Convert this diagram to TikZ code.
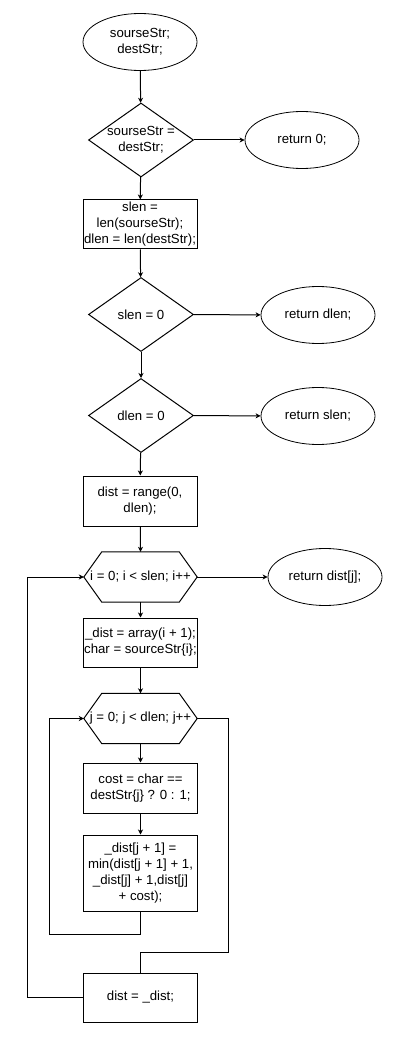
\documentclass[tikz,border=0pt]{standalone}
\usepackage{fontspec}
\setmainfont{Liberation Sans}
\usetikzlibrary{shapes.geometric,arrows.meta}
\begin{document}
\begin{tikzpicture}[x=1pt,y=-1pt,
  font=\fontsize{13.2}{16}\selectfont,
  every node/.style={align=center, inner sep=0pt},
  proc/.style={draw, line width=1pt, minimum width=114pt, minimum height=49pt},
  term/.style={draw, ellipse, line width=0.8pt, minimum width=114pt, minimum height=57pt},
  dec/.style={draw, diamond, line width=1pt, minimum width=105pt, minimum height=74pt},
  hexa/.style={minimum width=113pt, minimum height=50pt},
  conn/.style={line width=1pt, -{Stealth[length=5pt,width=5pt,inset=1.5pt]}},
  plain/.style={line width=1pt}]
\useasboundingbox (0,0) rectangle (419,1040);
\fill[white] (0,0) rectangle (419,1040);

% nodes
\node[term] (s) at (140,42) {sourseStr;\\destStr;};
\node[dec] (d1) at (141,140) {};
\node (d1t) at (d1) {sourseStr =\\destStr;};
\node[term] (r0) at (302,140) {return 0;};
\node[proc] (b1) at (140,224.5) {slen =\\len(sourseStr);\\dlen = len(destStr);};
\node[dec] (d2) at (141,314.5) {};
\node (d2t) at (d2) {slen = 0};
\node[term] (r1) at (318,315) {return dlen;};
\node[dec] (d3) at (141,415.5) {};
\node (d3t) at (d3) {dlen = 0};
\node[term] (r2) at (318,416) {return slen;};
\node[proc, minimum height=50pt] (b2) at (140,501) {dist = range(0,\\dlen);};
\node[hexa] (h1) at (140.5,577) {i = 0; i < slen; i++};
\node[term] (r3) at (325,577) {return dist[j];};
\node[proc] (b3) at (140.5,642.5) {\_dist = array(i + 1);\\char = sourceStr\{i\};};
\node[hexa] (h2) at (140.5,718.5) {j = 0; j < dlen; j++};
\node[proc, minimum height=50pt] (b4) at (140.5,788) {cost = char ==\\destStr\{j\} ? 0 : 1;};
\node[proc, minimum height=76pt] (b5) at (140.5,873) {\_dist[j + 1] =\\min(dist[j + 1] + 1,\\\_dist[j] + 1,dist[j]\\+ cost);};
\node[proc] (b6) at (140.5,997.5) {dist = \_dist;};

% hexagon outlines
\foreach \h in {h1,h2}{
  \draw[plain] ([xshift=18pt]\h.north west) -- ([xshift=-18pt]\h.north east) -- (\h.east)
    -- ([xshift=-18pt]\h.south east) -- ([xshift=18pt]\h.south west) -- (\h.west) -- cycle;
}

% connectors
\draw[conn] (s) -- (d1);
\draw[conn] (d1) -- (r0);
\draw[conn] (d1) -- (b1);
\draw[conn] (b1) -- (d2);
\draw[conn] (d2) -- (r1);
\draw[conn] (d2) -- (d3);
\draw[conn] (d3) -- (r2);
\draw[conn] (d3) -- (b2);
\draw[conn] (b2) -- (h1.north);
\draw[conn] (h1.east) -- (r3);
\draw[conn] (h1.south) -- (b3);
\draw[conn] (b3) -- (h2.north);
\draw[conn] (h2.south) -- (b4);
\draw[conn] (b4) -- (b5);

\coordinate (l1) at (49,934);
\draw[conn] (b5.south) |- (l1) |- (h2.west);
\coordinate (rr) at (228,952);
\draw[plain] (h2.east) -| (rr) -| (b6.north);
\coordinate (l2) at (27,997.5);
\draw[conn] (b6.west) -- (l2) |- (h1.west);
\end{tikzpicture}
\end{document}
